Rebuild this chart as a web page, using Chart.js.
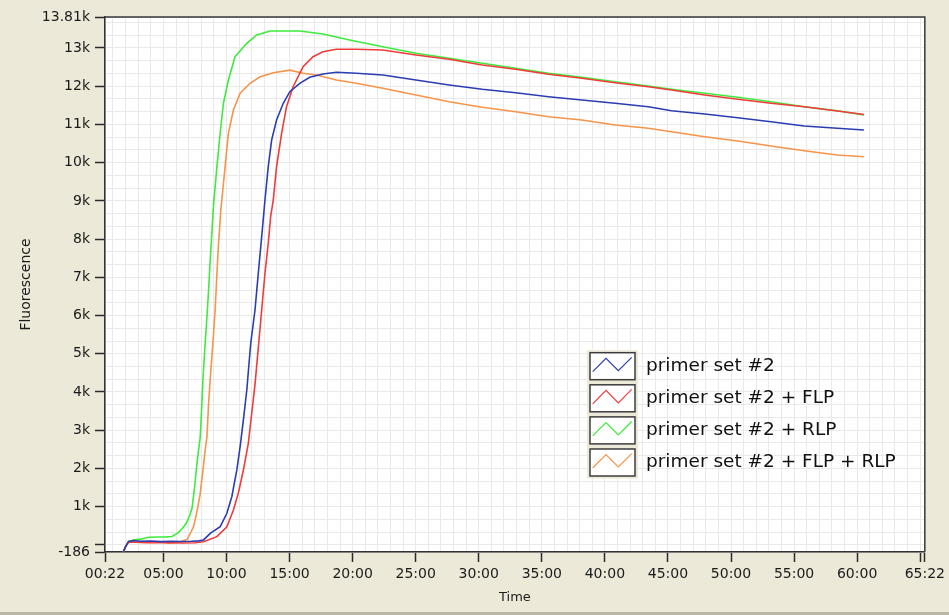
<!DOCTYPE html>
<html>
<head>
<meta charset="utf-8">
<script src="https://cdn.jsdelivr.net/npm/chart.js@4"></script>
<style>
html,body{margin:0;padding:0;background:#ECE9D8;}
#wrap{width:949px;height:615px;position:relative;}
canvas{display:block;}
</style>
</head>
<body>
<div id="wrap"><canvas id="c" width="949" height="615"></canvas></div>
<script>
// ---------- DATA (time in minutes, fluorescence units) ----------
const seriesNames = ['primer set #2', 'primer set #2 + FLP', 'primer set #2 + RLP', 'primer set #2 + FLP + RLP'];

const blueTime  = [1.82,2.00,2.24,2.6,3.2,4.0,4.8,5.6,6.4,7.2,7.8,8.18,8.71,9.50,10.03,10.42,10.82,11.08,11.34,11.61,11.92,12.26,12.52,12.79,13.05,13.31,13.58,13.97,14.50,15.02,15.81,16.60,17.65,18.71,20.29,22.39,25.02,27.65,30.28,32.92,35.54,38.17,40.81,43.44,45.28,47.91,50.54,53.17,55.80,58.43,60.54];
const blueValue = [-180,-40,90,115,95,100,85,95,90,95,105,130,300,476,827,1261,1960,2569,3268,4052,5274,6145,7105,8063,9023,9894,10592,11116,11552,11856,12076,12233,12319,12363,12337,12293,12162,12031,11919,11830,11725,11639,11552,11463,11359,11272,11176,11071,10959,10898,10854];

const redTime  = [1.82,2.00,2.24,2.8,3.6,4.5,5.5,6.5,7.5,8.18,9.24,10.03,10.55,10.94,11.34,11.73,12.00,12.26,12.52,12.79,13.05,13.31,13.50,13.71,13.97,14.37,14.76,15.28,16.07,16.86,17.65,18.71,20.29,22.39,25.02,27.65,30.28,32.92,35.54,38.17,40.81,43.44,45.28,47.91,50.54,53.17,55.80,58.43,60.54];
const redValue = [-180,-50,80,70,60,65,55,50,55,84,215,476,913,1358,1960,2658,3443,4200,5150,6145,7105,7890,8586,9023,9894,10768,11463,11987,12510,12771,12902,12965,12965,12947,12816,12703,12554,12442,12311,12206,12091,11987,11900,11770,11657,11552,11463,11351,11260];

const greenTime  = [1.82,2.00,2.24,2.7,3.18,3.82,4.6,5.2,5.69,6.18,6.48,6.80,7.10,7.27,7.45,7.66,7.92,8.05,8.13,8.31,8.45,8.58,8.71,8.84,8.97,9.24,9.50,9.76,10.15,10.68,11.61,12.40,13.45,15.81,17.65,19.76,22.39,25.02,27.65,30.28,32.92,35.54,38.17,40.81,43.44,45.28,47.91,50.54,53.17,55.80,58.43,60.54];
const greenValue = [-180,-45,90,135,150,200,205,210,220,320,420,560,780,965,1450,2143,2831,3712,4314,5282,5970,6668,7453,8159,8890,9894,10775,11560,12162,12771,13122,13339,13444,13444,13365,13208,13033,12860,12730,12599,12468,12337,12233,12117,12005,11919,11814,11709,11594,11463,11359,11250];

const orangeTime  = [1.82,2.00,2.24,3.0,4.0,4.8,5.4,5.9,6.5,6.9,7.2,7.39,7.6,7.9,8.15,8.31,8.45,8.58,8.76,8.92,9.10,9.24,9.37,9.55,9.63,9.89,10.15,10.55,11.08,11.87,12.66,13.71,15.02,16.07,17.13,18.71,20.29,22.39,25.02,27.65,30.28,32.92,35.54,38.17,40.81,43.44,45.28,47.91,50.54,53.17,55.80,58.43,60.54];
const orangeValue = [-180,-45,85,90,85,80,45,55,95,150,350,476,780,1300,2000,2483,2831,3704,4576,5274,6145,7105,7890,8761,9023,9894,10768,11377,11814,12076,12248,12353,12420,12337,12293,12162,12076,11945,11770,11594,11448,11333,11202,11116,10985,10898,10809,10679,10566,10435,10312,10200,10155];

// axis ticks
const xMin = 22/60, xMax = 65 + 22/60;
const xTickValues = [22/60,5,10,15,20,25,30,35,40,45,50,55,60,65,65+22/60];
const xTickLabels = ['00:22','05:00','10:00','15:00','20:00','25:00','30:00','35:00','40:00','45:00','50:00','55:00','60:00','','65:22'];
const yMin = -186, yMax = 13810;
const yTickValues = [-186,0,1000,2000,3000,4000,5000,6000,7000,8000,9000,10000,11000,12000,13000,13810];
const yTickLabels = ['-186','','1k','2k','3k','4k','5k','6k','7k','8k','9k','10k','11k','12k','13k','13.81k'];

// ---------- STYLE ----------
const colors = ['#2B3DB3', '#F23A3A', '#3DEB3D', '#F7944A'];
const FONT = "'DejaVu Sans', Verdana, sans-serif";

const toPts = (t, v) => t.map((x, i) => ({x: x, y: v[i]}));
const seriesData = [toPts(blueTime, blueValue), toPts(redTime, redValue), toPts(greenTime, greenValue), toPts(orangeTime, orangeValue)];

const xMinorTicks = [];
for (let m = 1; m <= 65; m++) xMinorTicks.push(m);
const yMinorTicks = [];
for (let k = 0; k * 1000 / 3 <= yMax; k++) yMinorTicks.push(k * 1000 / 3);

const bgPlugin = {
  id: 'bg',
  beforeDraw(chart) {
    const {ctx, chartArea: a, width, height} = chart;
    ctx.save();
    ctx.fillStyle = '#ECE9D8';
    ctx.fillRect(0, 0, width, height);
    ctx.fillStyle = '#B9B6A8';
    ctx.fillRect(0, height - 3, width, 3);
    ctx.fillStyle = '#FFFFFF';
    ctx.fillRect(a.left, a.top, a.right - a.left, a.bottom - a.top);
    ctx.restore();
  },
  afterDraw(chart) {
    const {ctx, chartArea: a} = chart;
    ctx.save();
    // frame (top / right)
    ctx.strokeStyle = '#3a3a3a';
    ctx.lineWidth = 1.5;
    ctx.beginPath();
    ctx.moveTo(a.left, a.top); ctx.lineTo(a.right, a.top); ctx.lineTo(a.right, a.bottom);
    ctx.stroke();
    // legend
    const bx = 590, bw = 45, bh = 27, step = 32.1, top0 = 352.7;
    ctx.fillStyle = '#ECE9D8';
    ctx.fillRect(bx - 3, top0 - 2.5, bw + 6, step * 3 + bh + 5);
    seriesNames.forEach((name, i) => {
      const ty = top0 + i * step;
      ctx.fillStyle = '#FFFFFF';
      ctx.fillRect(bx, ty, bw, bh);
      ctx.strokeStyle = '#3c3c3c';
      ctx.lineWidth = 1.5;
      ctx.strokeRect(bx, ty, bw, bh);
      ctx.strokeStyle = colors[i];
      ctx.lineWidth = 1.2;
      ctx.beginPath();
      ctx.moveTo(bx + 2.7, ty + 19);
      ctx.lineTo(bx + 16, ty + 5.6);
      ctx.lineTo(bx + 28.3, ty + 18);
      ctx.lineTo(bx + 41.7, ty + 4.6);
      ctx.stroke();
      ctx.fillStyle = '#111';
      ctx.font = "18.5px " + FONT;
      ctx.textBaseline = 'middle';
      ctx.textAlign = 'left';
      ctx.fillText(name, 646, ty + bh / 2);
    });
    ctx.restore();
  }
};

new Chart(document.getElementById('c'), {
  type: 'line',
  data: {
    datasets: seriesNames.map((n, i) => ({
      label: n,
      data: seriesData[i],
      borderColor: colors[i],
      backgroundColor: colors[i],
      borderWidth: 1.6,
      pointRadius: 0,
      tension: 0,
      fill: false,
      xAxisID: 'x',
      yAxisID: 'y'
    }))
  },
  options: {
    responsive: false,
    animation: false,
    events: [],
    layout: { padding: { top: 17, right: 21, left: 0, bottom: 0 } },
    plugins: { legend: { display: false }, tooltip: { enabled: false } },
    scales: {
      x: {
        type: 'linear', position: 'bottom', min: xMin, max: xMax,
        afterBuildTicks: s => { s.ticks = xTickValues.map(v => ({value: v})); },
        afterFit: s => { s.height = 63; },
        ticks: { autoSkip: false, maxRotation: 0, minRotation: 0, padding: 4, color: '#1a1a1a',
                 font: { family: FONT, size: 14 }, callback: (v, i) => xTickLabels[i] },
        grid: { color: '#d0d0d0', lineWidth: 1, tickLength: 10, tickColor: '#2a2a2a', tickWidth: 1.5 },
        border: { color: '#333', width: 1.5 },
        title: { display: true, text: 'Time', color: '#1a1a1a', font: { family: FONT, size: 13 }, padding: { bottom: 10 } }
      },
      y: {
        type: 'linear', position: 'left', min: yMin, max: yMax,
        afterBuildTicks: s => { s.ticks = yTickValues.map(v => ({value: v})); },
        afterFit: s => { s.width = 105; },
        ticks: { autoSkip: false, padding: 5, color: '#1a1a1a',
                 font: { family: FONT, size: 14 }, callback: (v, i) => yTickLabels[i] },
        grid: { color: '#d0d0d0', lineWidth: 1, tickLength: 10, tickColor: '#2a2a2a', tickWidth: 1.5 },
        border: { color: '#333', width: 1.5 },
        title: { display: true, text: 'Fluorescence', color: '#1a1a1a', font: { family: FONT, size: 14 }, padding: { top: 18 } }
      },
      xMinor: {
        type: 'linear', position: 'top', min: xMin, max: xMax, z: -1,
        afterBuildTicks: s => { s.ticks = xMinorTicks.map(v => ({value: v})); },
        ticks: { display: false },
        grid: { color: '#e9e9e9', lineWidth: 1, drawTicks: false },
        border: { display: false }
      },
      yMinor: {
        type: 'linear', position: 'right', min: yMin, max: yMax, z: -1,
        afterBuildTicks: s => { s.ticks = yMinorTicks.map(v => ({value: v})); },
        ticks: { display: false },
        grid: { color: '#e9e9e9', lineWidth: 1, drawTicks: false },
        border: { display: false }
      }
    }
  },
  plugins: [bgPlugin]
});
</script>
</body>
</html>
